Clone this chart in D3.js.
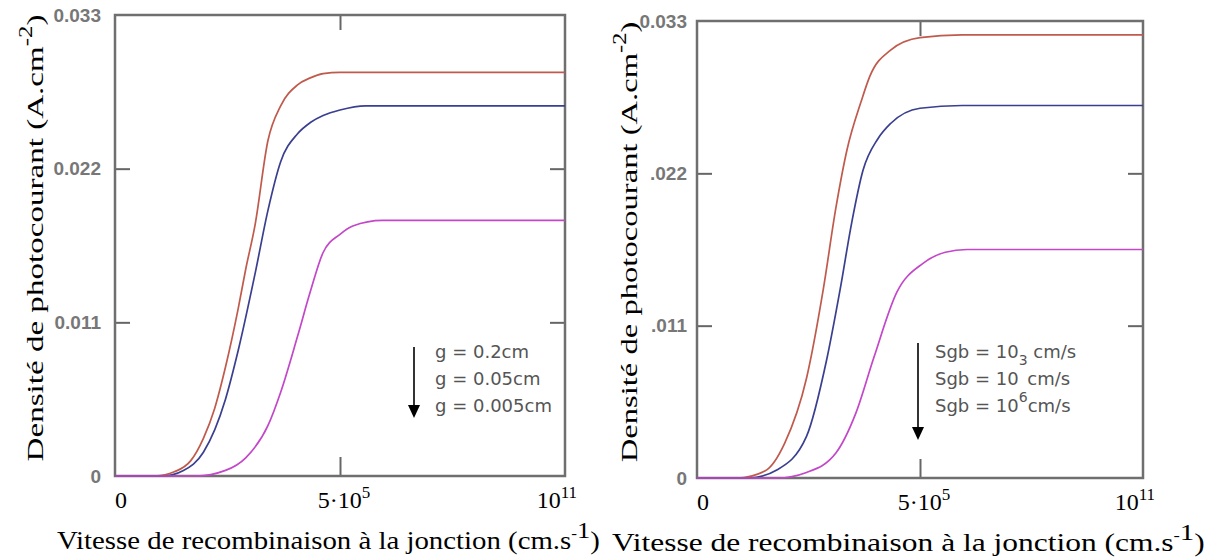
<!DOCTYPE html>
<html>
<head>
<meta charset="utf-8">
<script src="https://cdn.jsdelivr.net/npm/d3@7"></script>
<style>
  body { margin: 0; background: #fff; }
  .tickLab { font-family: "Liberation Sans Narrow", "Liberation Sans", sans-serif; font-weight: bold; font-size: 19px; fill: #777; }
  .serif { font-family: "Liberation Serif", "DejaVu Serif", serif; fill: #000; }
  .legend { font-family: "DejaVu Sans", Verdana, sans-serif; font-size: 18px; fill: #555; }
</style>
</head>
<body>
<div class="chart"></div>
<script>
// Tick values shared by both panels
var xTickValues = [0, 5e5, 1e11];
var yTickValues = [0, 0.011, 0.022, 0.033];
var yTickLabelsLeft = ["0", "0.011", "0.022", "0.033"];
var yTickLabelsRight = ["0", ".011", ".022", "0.033"];

// Left panel: effect of grain size g (Sf in cm/s, Jph in A/cm2)
var gLabels = ["g = 0.2cm", "g = 0.05cm", "g = 0.005cm"];
var sfG1 = [0, 20, 60, 150, 300, 550, 1000, 2000, 3000, 5000, 1e4, 2e4, 5e4, 1e5, 2e5, 5e5, 1e11];
var jG1 = [0, 0, 0.0003, 0.0011, 0.0027, 0.0048, 0.0078, 0.012, 0.0148, 0.018, 0.024, 0.0265, 0.028, 0.0285, 0.0288, 0.0289, 0.0289];
var sfG2 = [0, 30, 100, 300, 1000, 2000, 5000, 1e4, 2e4, 5e4, 1e5, 2e5, 5e5, 2e6, 1e11];
var jG2 = [0, 0, 0.0004, 0.0017, 0.0055, 0.009, 0.0145, 0.019, 0.0225, 0.0245, 0.0253, 0.0258, 0.0262, 0.0265, 0.0265];
var sfG3 = [0, 200, 1000, 3000, 1e4, 2e4, 5e4, 1e5, 2e5, 5e5, 1e6, 5e6, 1e11];
var jG3 = [0, 0, 0.0004, 0.0013, 0.0036, 0.006, 0.0100, 0.0132, 0.016, 0.0173, 0.0179, 0.0183, 0.0183];

// Right panel: effect of grain boundary recombination Sgb
var sgbExp = ["3", "3", "6"];
var sfS1 = [0, 20, 100, 300, 1000, 2500, 5000, 9200, 2e4, 3.2e4, 1e5, 5e5, 5e6, 1e11];
var jS1 = [0, 0, 0.0005, 0.0025, 0.0072, 0.0136, 0.0195, 0.0237, 0.0272, 0.029, 0.0309, 0.0318, 0.032, 0.032];
var sfS2 = [0, 40, 200, 1000, 3000, 6300, 1.2e4, 2.2e4, 5e4, 1e5, 5e5, 5e6, 1e11];
var jS2 = [0, 0, 0.0006, 0.003, 0.0085, 0.0136, 0.0185, 0.0222, 0.0245, 0.0256, 0.0267, 0.0269, 0.0269];
var sfS3 = [0, 200, 1000, 5000, 1.5e4, 4e4, 1.4e5, 5.9e5, 2e6, 6.5e6, 1e11];
var jS3 = [0, 0, 0.0004, 0.0018, 0.0047, 0.0087, 0.0134, 0.0155, 0.0163, 0.0165, 0.0165];

var curveColors = ["#bf5a4c", "#3a3f8f", "#c347c9"];

var svg = d3
  .select(".chart")
  .append("svg")
  .attr("width", 1213)
  .attr("height", 558);

// stretch a text horizontally so that it covers a given length
function fitLength(t, len, tr) {
  var natural = t.node().getComputedTextLength();
  t.attr("transform", tr + " scale(" + (len / natural) + ",1)");
}

function drawPanel(opt) {
  var w = opt.right - opt.left;
  var h = opt.bottom - opt.top;
  var g = svg.append("g")
    .attr("transform", "translate(" + opt.left + "," + opt.top + ")");

  // symlog puts 0 on the left edge and 5e5 in the middle, like the original
  var xScale = d3.scaleSymlog().constant(2.5).domain([0, 1e11]).range([0, w]);
  var yScale = d3.scaleLinear().domain([0, 0.033]).range([h, 0]);

  // inward ticks on all four sides
  var yl = g.append("g").call(d3.axisLeft(yScale).tickValues(yTickValues.slice(1, 3)).tickSize(-15).tickFormat(""));
  var yr = g.append("g").attr("transform", "translate(" + w + ",0)")
    .call(d3.axisRight(yScale).tickValues(yTickValues.slice(1, 3)).tickSize(-15).tickFormat(""));
  var xb = g.append("g").attr("transform", "translate(0," + h + ")")
    .call(d3.axisBottom(xScale).tickValues([5e5]).tickSize(-19).tickFormat(""));
  var xt = g.append("g").call(d3.axisTop(xScale).tickValues([5e5]).tickSize(-15).tickFormat(""));
  [yl, yr, xb, xt].forEach(function (a) {
    a.select(".domain").remove();
    a.selectAll("line").attr("stroke", "#666").attr("stroke-width", 2);
  });

  // frame
  g.append("rect")
    .attr("width", w).attr("height", h)
    .attr("fill", "none").attr("stroke", "#6f6f6f").attr("stroke-width", 2.5);

  // y tick labels
  g.selectAll(".ylab")
    .data(yTickValues)
    .enter()
    .append("text")
    .attr("class", "tickLab")
    .attr("x", opt.yLabX)
    .attr("y", function (d) { return yScale(d); })
    .attr("dy", "0.35em")
    .attr("text-anchor", "end")
    .text(function (d, i) { return opt.yLabels[i]; });

  // x tick labels with powers of ten
  var xl = g.selectAll(".xlab")
    .data(xTickValues)
    .enter()
    .append("text")
    .attr("class", "serif")
    .style("font-size", "24px")
    .attr("x", function (d) { return xScale(d); })
    .attr("y", h + 32)
    .attr("text-anchor", function (d, i) { return i == 2 ? "end" : "middle"; })
    .attr("dx", function (d, i) { return i == 0 ? 6 : (i == 2 ? 12 : 4); });
  xl.each(function (d, i) {
    var t = d3.select(this);
    if (i == 0) { t.text("0"); return; }
    t.append("tspan").text(i == 1 ? "5\u00b710" : "10");
    t.append("tspan").attr("dy", -10).style("font-size", "17px").text(i == 1 ? "5" : "11");
  });

  // curves
  var line = d3.line()
    .x(function (d) { return xScale(d[0]); })
    .y(function (d) { return yScale(d[1]); })
    .curve(d3.curveMonotoneX);
  opt.series.forEach(function (s, i) {
    g.append("path")
      .datum(d3.zip(s[0], s[1]))
      .attr("fill", "none")
      .attr("stroke", curveColors[i])
      .attr("stroke-width", 1.7)
      .attr("d", line);
  });

  // x axis title
  var xt2 = svg.append("text")
    .attr("class", "serif")
    .style("font-size", "25px");
  xt2.append("tspan").text("Vitesse de recombinaison \u00e0 la jonction (cm.s");
  xt2.append("tspan").attr("dy", -11).style("font-size", "15px").text("-");
  xt2.append("tspan").style("font-size", "23px").text("1");
  xt2.append("tspan").attr("dy", 11).text(")");
  fitLength(xt2, opt.xTitleLen, "translate(" + opt.xTitleX + "," + opt.xTitleY + ")");

  // y axis title
  var yt = svg.append("text")
    .attr("class", "serif")
    .style("font-size", "24px")
    .attr("text-anchor", "middle");
  yt.append("tspan").text("Densit\u00e9 de photocourant (A.cm");
  yt.append("tspan").attr("dy", -11).style("font-size", "18px").text("-2");
  yt.append("tspan").attr("dy", 11).text(")");
  fitLength(yt, opt.yTitleLen, "translate(" + opt.yTitleX + "," + opt.yTitleY + ") rotate(-90)");

  return g;
}

function drawArrow(x, y1, y2) {
  svg.append("line")
    .attr("x1", x).attr("y1", y1).attr("x2", x).attr("y2", y2 - 8)
    .attr("stroke", "#000").attr("stroke-width", 1.6);
  svg.append("path")
    .attr("d", "M" + (x - 6) + "," + (y2 - 13) + "L" + (x + 6) + "," + (y2 - 13) + "L" + x + "," + y2 + "Z")
    .attr("fill", "#000");
}

var left = drawPanel({
  left: 115, right: 565, top: 15, bottom: 476,
  yLabX: -14, yLabels: yTickLabelsLeft,
  xTitleX: 57, xTitleY: 549, xTitleLen: 543,
  yTitleX: 43, yTitleY: 238, yTitleLen: 447,
  series: [[sfG1, jG1], [sfG2, jG2], [sfG3, jG3]]
});

var right = drawPanel({
  left: 697, right: 1143, top: 21, bottom: 478,
  yLabX: -10, yLabels: yTickLabelsRight,
  xTitleX: 612, xTitleY: 551, xTitleLen: 593,
  yTitleX: 637, yTitleY: 242, yTitleLen: 441,
  series: [[sfS1, jS1], [sfS2, jS2], [sfS3, jS3]]
});

// Left legend
drawArrow(414, 347, 418);
svg.selectAll(".gleg")
  .data(gLabels)
  .enter()
  .append("text")
  .attr("class", "legend")
  .attr("x", 435)
  .attr("y", function (d, i) { return 358 + i * 27; })
  .text(function (d) { return d; });

// Right legend
drawArrow(918, 343, 440);
var sl = svg.append("g").attr("class", "legend").style("font-size", "18px");
sgbExp.forEach(function (e, i) {
  var t = sl.append("text").attr("x", 935).attr("y", 358 + i * 27);
  t.append("tspan").text("Sgb = 10");
  // the exponents sit between the lines, as in the original figure
  var dy = i == 0 ? 7 : -10;
  t.append("tspan").attr("dy", dy).style("font-size", "14px").text(i == 1 ? "\u2009" : e);
  t.append("tspan").attr("dy", -dy).text(i == 2 ? "cm/s" : " cm/s");
});
</script>
</body>
</html>
